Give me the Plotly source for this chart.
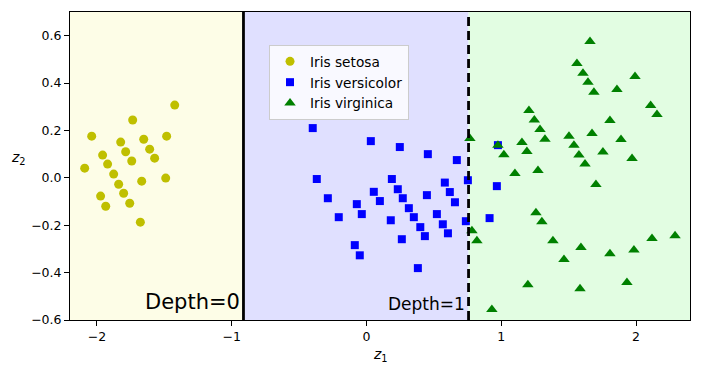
import plotly.graph_objects as go

# ---- data ----
setosa_x = [-1.423, -1.735, -2.039, -1.483, -1.824, -1.653, -1.787, -1.609, -1.958, -1.572,
            -1.742, -1.921, -2.091, -1.876, -1.668, -1.490, -1.839, -1.802, -1.973, -1.757,
            -1.935, -1.678]
setosa_y = [0.307, 0.244, 0.176, 0.176, 0.151, 0.163, 0.110, 0.121, 0.096, 0.083,
            0.071, 0.058, 0.041, 0.016, -0.014, -0.001, -0.027, -0.065, -0.077, -0.107,
            -0.120, -0.187]

versicolor_x = [-0.399, 0.032, 0.247, 0.455, 0.670, -0.369, 0.188, 0.581, 0.752, -0.287,
                0.054, 0.232, 0.618, -0.072, 0.099, 0.269, 0.448, 0.656, -0.206, -0.035,
                0.180, 0.314, 0.351, 0.522, 0.737, 0.913, 0.566, 0.399, 0.433, 0.604,
                0.262, -0.087, -0.050, 0.381, 0.975, 0.967]
versicolor_y = [0.210, 0.155, 0.130, 0.100, 0.075, -0.005, -0.005, -0.020, -0.010, -0.086,
                -0.059, -0.048, -0.060, -0.111, -0.098, -0.086, -0.073, -0.103, -0.166, -0.153,
                -0.179, -0.128, -0.166, -0.153, -0.183, -0.170, -0.196, -0.208, -0.246, -0.234,
                -0.259, -0.284, -0.327, -0.381, 0.138, -0.035]

virginica_x = [1.658, 1.561, 1.606, 1.643, 1.687, 1.992, 1.858, 1.205, 1.245, 1.287,
               1.324, 2.108, 2.155, 1.806, 0.767, 0.975, 1.019, 1.153, 1.190, 1.502,
               1.539, 1.576, 1.621, 1.673, 1.888, 1.754, 1.970, 1.101, 1.272, 1.702,
               1.257, 1.301, 0.782, 0.819, 1.383, 1.591, 1.465, 1.806, 1.984, 2.118,
               2.289, 1.197, 1.584, 1.932, 0.930]
virginica_y = [0.576, 0.483, 0.441, 0.403, 0.361, 0.428, 0.373, 0.284, 0.244, 0.204,
               0.163, 0.305, 0.267, 0.242, 0.166, 0.138, 0.098, 0.149, 0.111, 0.176,
               0.138, 0.096, 0.058, 0.187, 0.162, 0.109, 0.082, 0.018, 0.031, -0.028,
               -0.147, -0.185, -0.223, -0.265, -0.265, -0.294, -0.345, -0.320, -0.305, -0.256,
               -0.244, -0.451, -0.468, -0.442, -0.556]

x_range = [-2.2, 2.4]
y_range = [-0.6, 0.7]
split_depth0 = -0.913
split_depth1 = 0.757
region_colors = ["rgb(253,253,231)", "rgb(224,224,255)", "rgb(226,253,226)"]
x_ticks = [-2, -1, 0, 1, 2]
y_ticks = [-0.6, -0.4, -0.2, 0.0, 0.2, 0.4, 0.6]

FONT = "DejaVu Sans"

fig = go.Figure()

# background regions
bounds = [x_range[0], split_depth0, split_depth1, x_range[1]]
for i, col in enumerate(region_colors):
    fig.add_shape(type="rect", xref="x", yref="y", x0=bounds[i], x1=bounds[i + 1],
                  y0=y_range[0], y1=y_range[1], fillcolor=col, line=dict(width=0),
                  layer="below")

fig.add_trace(go.Scatter(x=setosa_x, y=setosa_y, mode="markers", name="Iris setosa",
                         marker=dict(symbol="circle", size=9, color="#bfbf00",
                                     line=dict(width=0))))
fig.add_trace(go.Scatter(x=versicolor_x, y=versicolor_y, mode="markers", name="Iris versicolor",
                         marker=dict(symbol="square", size=8, color="#0000ff",
                                     line=dict(width=0))))
fig.add_trace(go.Scatter(x=virginica_x, y=virginica_y, mode="markers", name="Iris virginica",
                         marker=dict(symbol="triangle-up", size=10, color="#008000",
                                     line=dict(width=0))))

# split lines
fig.add_trace(go.Scatter(x=[split_depth0, split_depth0], y=y_range, mode="lines",
                         line=dict(color="black", width=2.8), showlegend=False, hoverinfo="skip"))
fig.add_trace(go.Scatter(x=[split_depth1, split_depth1], y=y_range, mode="lines",
                         line=dict(color="black", width=2.8, dash="9px,5px"),
                         showlegend=False, hoverinfo="skip"))

fig.add_annotation(x=split_depth0 - 0.008, y=-0.526, xref="x", yref="y", text="Depth=0",
                   showarrow=False, xanchor="right", yanchor="middle",
                   font=dict(family=FONT, size=21, color="black"))
fig.add_annotation(x=split_depth1 - 0.010, y=-0.531, xref="x", yref="y", text="Depth=1",
                   showarrow=False, xanchor="right", yanchor="middle",
                   font=dict(family=FONT, size=17, color="black"))

# axis labels
fig.add_annotation(x=0.5, y=-0.114, xref="paper", yref="paper", text="<i>z</i><sub>1</sub>",
                   showarrow=False, xanchor="center", yanchor="middle",
                   font=dict(family=FONT, size=14, color="black"))
fig.add_annotation(x=-0.068, y=0.526, xref="paper", yref="paper", text="<i>z</i><sub>2</sub>",
                   showarrow=False, xanchor="right", yanchor="middle",
                   font=dict(family=FONT, size=14, color="black"))

axis_common = dict(showgrid=False, zeroline=False, showline=True, linecolor="black",
                   linewidth=1, mirror=True, ticks="outside", ticklen=5, tickwidth=1,
                   tickcolor="black", tickfont=dict(family=FONT, size=12.5, color="black"))

fig.update_xaxes(range=x_range, tickvals=x_ticks, **axis_common)
fig.update_yaxes(range=y_range, tickvals=y_ticks, tickformat=".1f", **axis_common)

# page body has an 8px default margin, so the figure is sized/offset to compensate
fig.update_layout(
    width=693, height=364,
    margin=dict(l=62, r=11, t=4, b=52),
    paper_bgcolor="white", plot_bgcolor="white",
    font=dict(family=FONT, color="black"),
    legend=dict(x=0.321, y=0.893, xanchor="left", yanchor="top",
                bgcolor="rgba(255,255,255,0.8)", bordercolor="#cccccc", borderwidth=1,
                font=dict(family=FONT, size=13.7, color="black"),
                tracegroupgap=0, itemsizing="trace"),
    showlegend=True,
)

fig.write_html("out.html")
